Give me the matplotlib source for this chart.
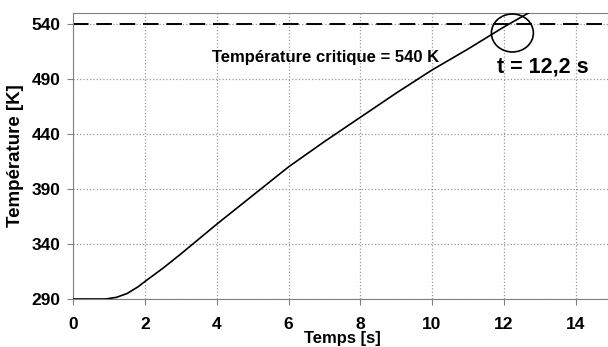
import matplotlib
matplotlib.use("Agg")
import matplotlib.pyplot as plt
from matplotlib.patches import Ellipse

plt.rcParams['font.family'] = ['Liberation Sans', 'DejaVu Sans']
plt.rcParams['font.weight'] = 'bold'

# données
temps = [0, 0.5, 0.9, 1.2, 1.5, 1.8, 2.0, 2.5, 3, 4, 5, 6, 7, 8, 9, 10, 11, 12, 12.7]
temperature = [290, 290, 290, 291.5, 295, 301, 306, 318, 331, 358, 384, 410,
               433, 455, 477, 498, 517, 537, 550]
T_crit = 540
t_crit = 12.2
x_ticks = [0, 2, 4, 6, 8, 10, 12, 14]
y_ticks = [290, 340, 390, 440, 490, 540]

fig = plt.figure(figsize=(6.08, 3.47), dpi=100)
ax = fig.add_axes([0.1206, 0.1383, 0.885, 0.825])

ax.plot(temps, temperature, color='black', lw=1.2, zorder=3)
ax.axhline(T_crit, color='black', lw=1.4, ls=(0, (8, 4)), zorder=2)

ax.add_patch(Ellipse((12.24, 531.6), 1.17, 34.5, fill=False, ec='black', lw=1.2, zorder=4))
ax.text(3.86, 509, "Température critique = 540 K", fontsize=12, fontweight='bold',
        ha='left', va='center')
ax.text(11.82, 501, "t = 12,2 s", fontsize=15.5, fontweight='bold', ha='left', va='center')

ax.set_xlim(0, 15)
ax.set_ylim(290, 550)
ax.set_xticks(x_ticks)
ax.set_yticks(y_ticks)
ax.grid(True, color='#999999', ls=':', lw=0.9)
ax.set_axisbelow(True)

for s in ['left', 'bottom', 'top']:
    ax.spines[s].set_color('#808080')
ax.spines['right'].set_visible(False)
ax.tick_params(axis='both', colors='#808080', labelcolor='black', labelsize=12.5, length=4)
ax.tick_params(axis='x', pad=9)
ax.tick_params(axis='y', pad=5)
for lab in ax.get_xticklabels() + ax.get_yticklabels():
    lab.set_fontweight('bold')

ax.set_xlabel("Temps [s]", fontsize=12, fontweight='bold')
ax.xaxis.set_label_coords(0.5, -0.113)
ax.set_ylabel("Température [K]", fontsize=13.5, fontweight='bold')
ax.yaxis.set_label_coords(-0.092, 0.5)

fig.savefig("out.png", dpi=100)
